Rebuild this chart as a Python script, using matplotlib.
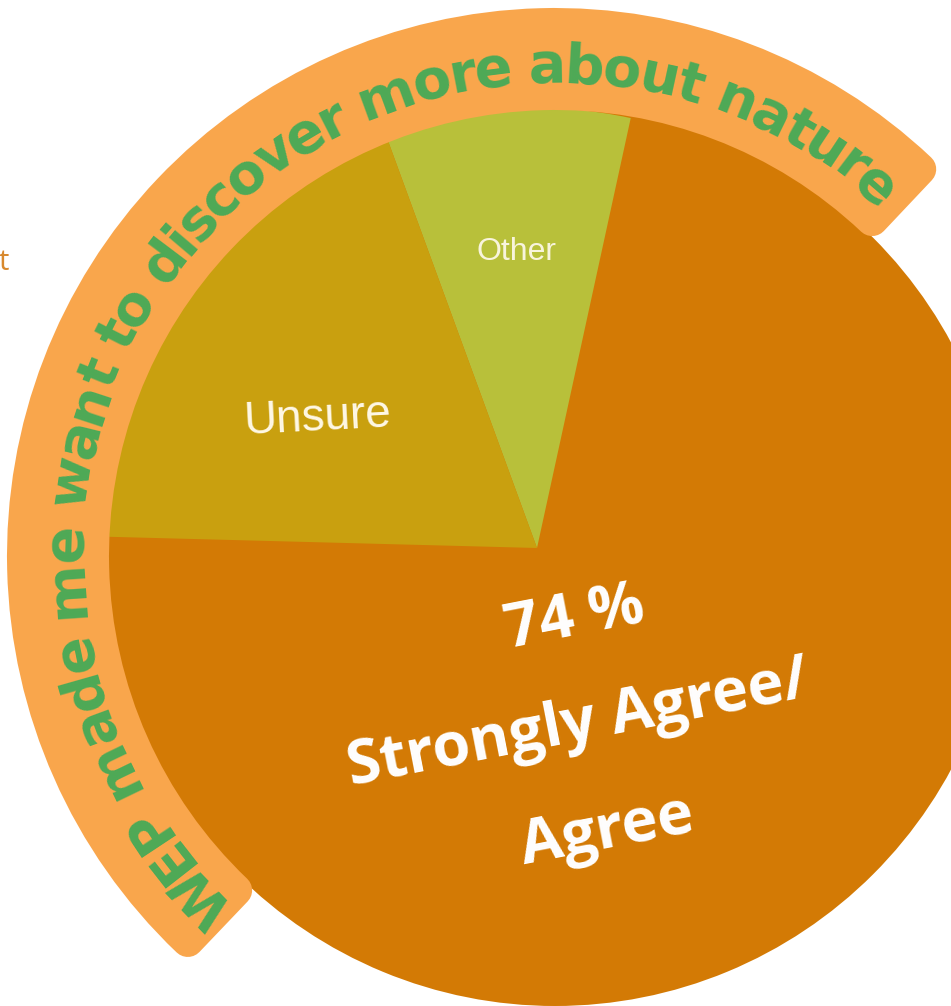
import numpy as np
import matplotlib
matplotlib.use("Agg")
import matplotlib.pyplot as plt
from matplotlib.patches import Wedge
from matplotlib.font_manager import FontProperties

# Daten
categories = ["Strongly Agree/Agree", "Other", "Unsure"]
shares = [72, 9, 19]
slice_colors = ["#D37A05", "#B8C03A", "#C9A00F"]
headline_pct = "74 %"
arc_title = "WEP made me want to discover more about nature"

W, H = 951, 1006
cx, cy = 555, 556          # Kreismittelpunkt in Pixeln
band_color = "#F9A64C"
green = "#4DAA57"

fig = plt.figure(figsize=(W / 100, H / 100), dpi=100)
ax = fig.add_axes([0, 0, 1, 1])

wedges, _ = ax.pie(
    shares,
    colors=slice_colors,
    startangle=178.5,
    radius=440,
    center=(-18, 8),
    counterclock=True,
    wedgeprops=dict(linewidth=0)
)

# grosses Stueck sitzt etwas versetzt und ist groesser;
# als voller Kreis unter den anderen Stuecken, damit keine Luecke bleibt
big = wedges[0]
big.set_center((0, 0))
big.set_radius(450)
big.set_theta2(big.theta1 + 360)

ax.set_xlim(-cx, W - cx)
ax.set_ylim(-(H - cy), cy)
ax.set_aspect("equal")
ax.axis("off")

# ==========================
# Band mit abgerundeten Ecken
# ==========================
r_in, r_out, cr = 446, 548, 16
band_w = r_out - r_in
delta = np.degrees(cr / ((r_in + r_out) / 2))
band = Wedge(
    (0, 0), r_out - cr, 44.8 + delta, 228.2 - delta,
    width=band_w - 2 * cr,
    facecolor=band_color, edgecolor=band_color,
    linewidth=2 * cr * 72 / 100, joinstyle="round", zorder=3
)
ax.add_patch(band)

# ==========================
# Text entlang des Bogens
# ==========================
prop = FontProperties(family="DejaVu Sans", weight="bold", size=40)
renderer = fig.canvas.get_renderer()


def text_width(s):
    return renderer.get_text_width_height_descent(s, prop, ismath=False)[0]


r_b = 474
a_start, a_end = 223.7, 49.1
idx = [i for i, c in enumerate(arc_title) if c != " "]
centers = np.array([
    text_width(arc_title[:i + 1]) - text_width(arc_title[i]) / 2
    for i in idx
])
arc_len = np.radians(a_start - a_end) * r_b
track = (arc_len - (centers[-1] - centers[0])) / (idx[-1] - idx[0])

for i, c0 in zip(idx, centers):
    pos = c0 - centers[0] + (i - idx[0]) * track
    ang = a_start - np.degrees(pos / r_b)
    x = r_b * np.cos(np.radians(ang))
    y = r_b * np.sin(np.radians(ang))
    ax.text(
        x, y, arc_title[i],
        fontproperties=prop, color=green,
        rotation=ang - 90, rotation_mode="anchor",
        ha="center", va="baseline", zorder=4
    )

# ==========================
# Beschriftungen
# ==========================
def px(x, y):
    return x - cx, cy - y


label_font = dict(family="Open Sans", weight="bold", color="white",
                  ha="center", va="center", rotation=11,
                  rotation_mode="anchor", fontsize=44, zorder=5)
ax.text(*px(575, 620), headline_pct, **label_font)
ax.text(*px(578, 725), "Strongly Agree/", **label_font)
ax.text(*px(607, 832), "Agree", **label_font)

ax.text(*px(318, 418), categories[2], family="Liberation Sans",
        color="#FFF8E6", fontsize=33, rotation=3, rotation_mode="anchor",
        ha="center", va="center", zorder=5)
ax.text(*px(516, 252), categories[1], family="Liberation Sans",
        color="#F8F4DC", fontsize=23, ha="center", va="center", zorder=5)

# Rest eines Textes am linken Rand
ax.text(*px(4, 262), "t", family="Open Sans", color="#D8892E",
        fontsize=21, ha="center", va="center", zorder=5)

fig.savefig("out.png", dpi=100)
